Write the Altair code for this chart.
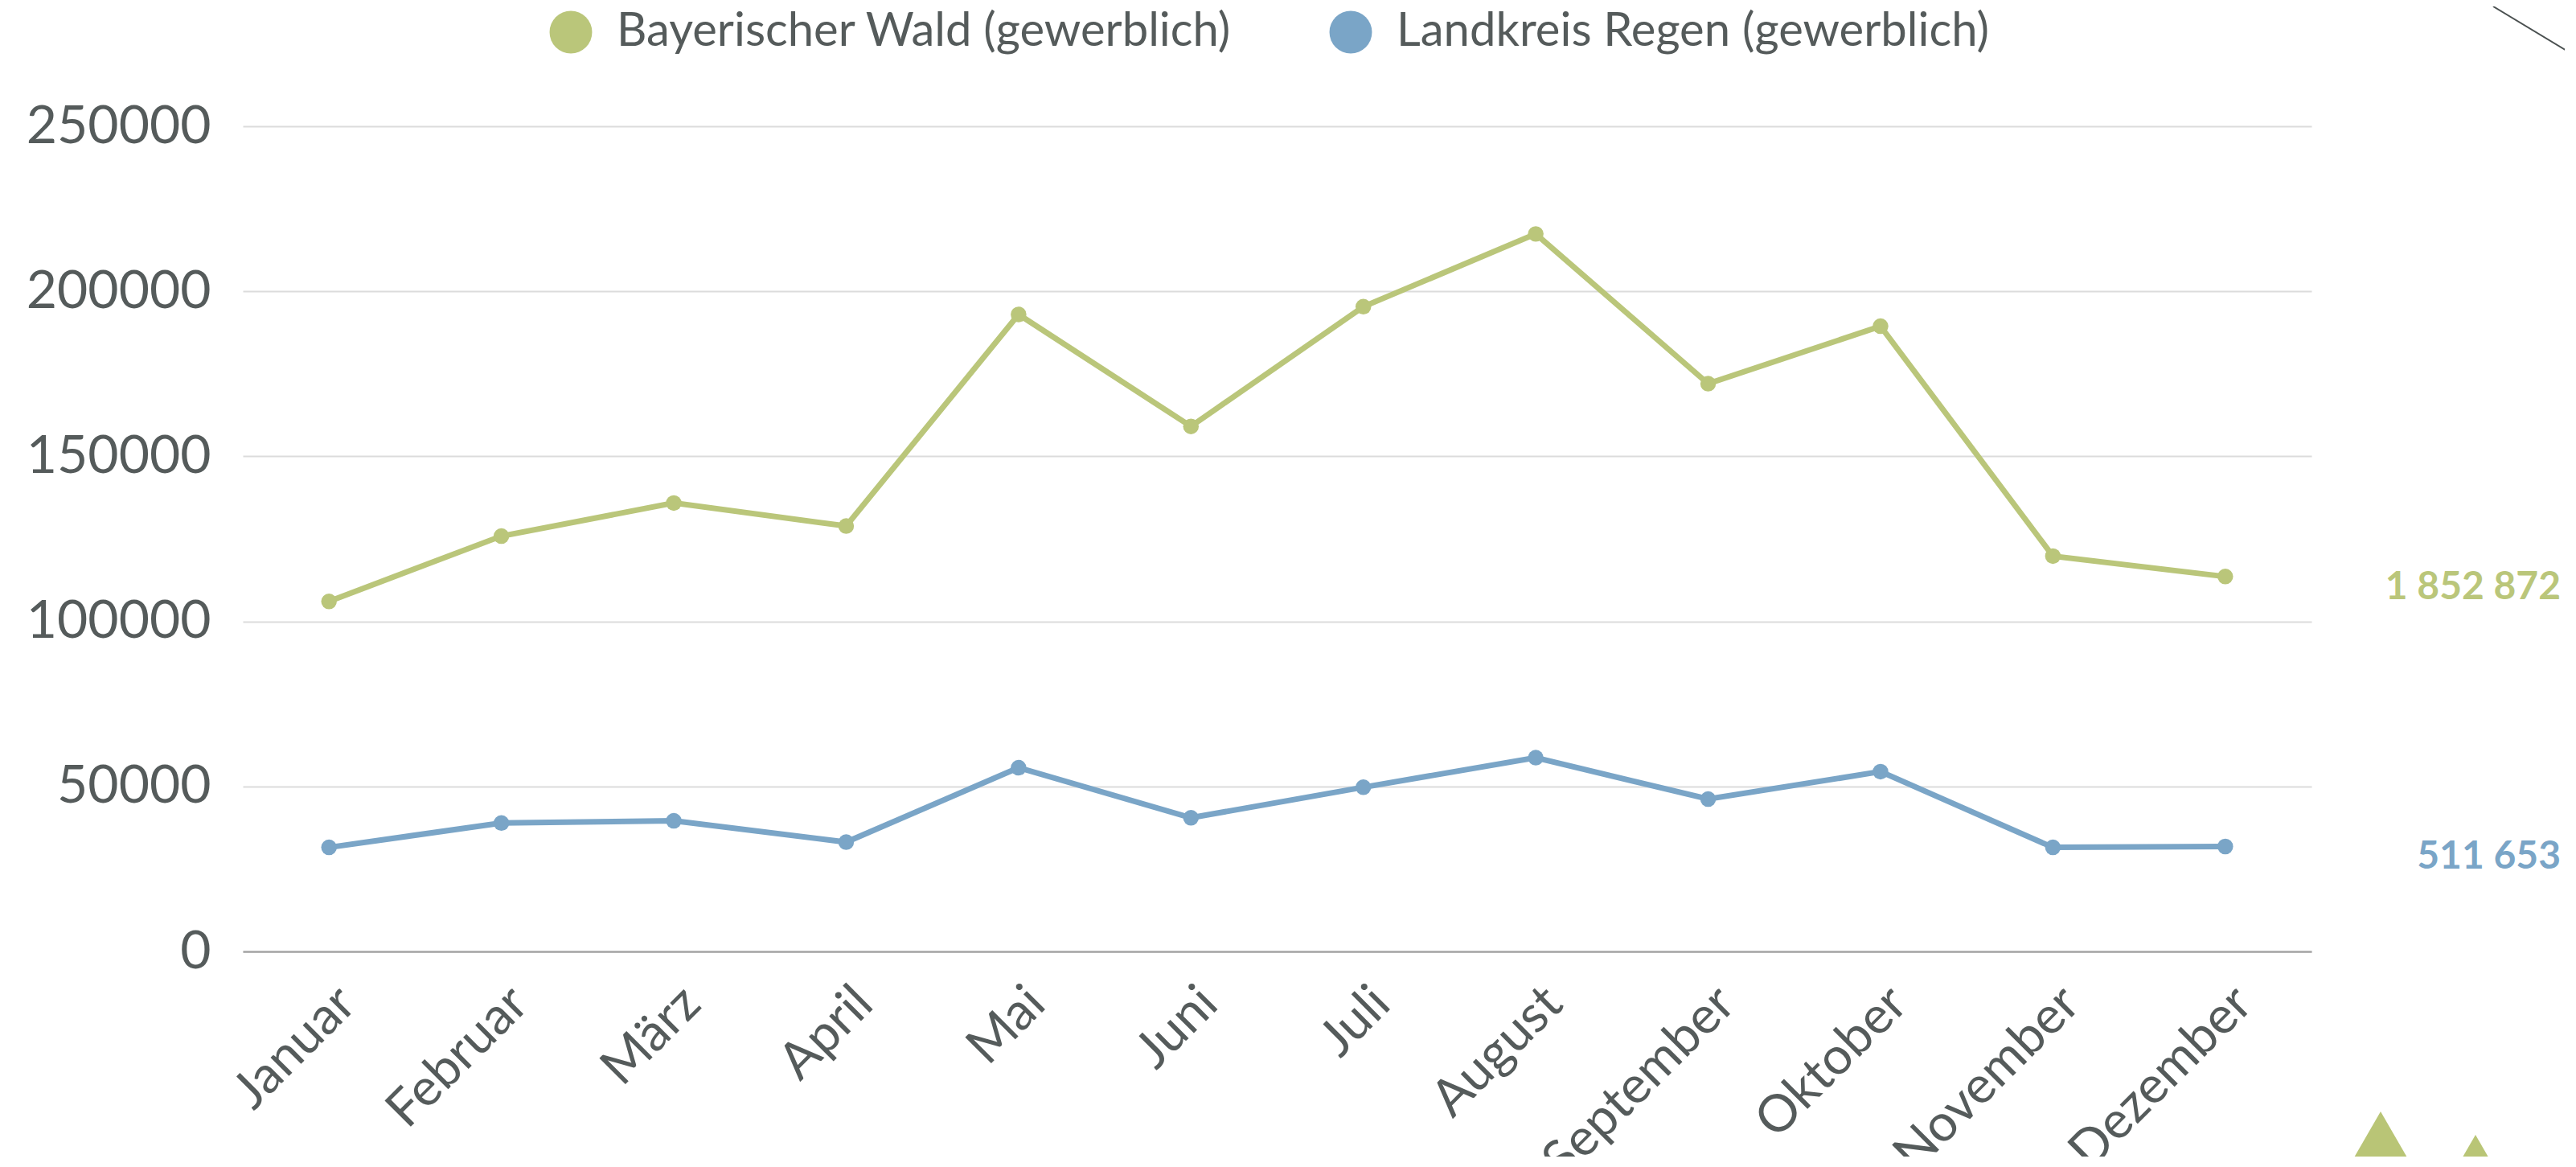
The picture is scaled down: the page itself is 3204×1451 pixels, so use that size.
import altair as alt
import pandas as pd

months = ["Januar", "Februar", "März", "April", "Mai", "Juni", "Juli",
          "August", "September", "Oktober", "November", "Dezember"]
series_names = ["Bayerischer Wald (gewerblich)", "Landkreis Regen (gewerblich)"]
wald_values = [106050, 125840, 135870, 128880, 192980, 159080, 195350,
               217380, 172010, 189420, 119780, 113580]
regen_values = [31530, 38920, 39580, 33120, 55670, 40500, 49740,
                58700, 46170, 54480, 31530, 31800]
totals = ["1 852 872", "511 653"]
colors = ["#bac67a", "#7aa5c7"]
y_ticks = [0, 50000, 100000, 150000, 200000, 250000]

TEXT = "#555b5b"
FONT = "Lato"

rows = []
for m, v in zip(months, wald_values):
    rows.append({"month": m, "series": series_names[0], "value": v})
for m, v in zip(months, regen_values):
    rows.append({"month": m, "series": series_names[1], "value": v})
df = pd.DataFrame(rows)

df_tot = pd.DataFrame({
    "series": series_names,
    "value": [wald_values[-1], regen_values[-1]],
    "label": totals,
})

W, H = 2573, 1026

x_enc = alt.X("month:N", sort=months,
              scale=alt.Scale(type="point", padding=0.5),
              axis=alt.Axis(title=None, labelAngle=-45, labelFontSize=64,
                            labelFont=FONT, labelColor=TEXT, labelPadding=32,
                            labelLimit=0,
                            ticks=False, grid=False, domain=True,
                            domainColor="#a6a6a6", domainWidth=2.5))
y_enc = alt.Y("value:Q", scale=alt.Scale(domain=[0, 250000], nice=False),
              axis=alt.Axis(title=None, values=y_ticks, format="d",
                            labelFontSize=66, labelFont=FONT, labelColor=TEXT,
                            labelPadding=40, labelLimit=0,
                            ticks=False, domain=False,
                            grid=True, gridColor="#dcdcdc", gridWidth=2))
color_enc = alt.Color("series:N",
                      scale=alt.Scale(domain=series_names, range=colors),
                      legend=alt.Legend(title=None, orient="none",
                                        direction="horizontal",
                                        legendX=379, legendY=-146,
                                        symbolType="circle", symbolSize=2800,
                                        symbolStrokeWidth=0, symbolOpacity=1,
                                        labelFontSize=58, labelFont=FONT,
                                        labelColor=TEXT, labelOffset=28,
                                        labelLimit=0,
                                        columnPadding=118, padding=0))

base = alt.Chart(df).encode(x=x_enc, y=y_enc, color=color_enc)
line = base.mark_line(strokeWidth=7)
pts = base.mark_circle(size=380, opacity=1)

tot = alt.Chart(df_tot).mark_text(
    align="right", baseline="middle", fontSize=48, fontWeight="bold",
    font=FONT, dy=14
).encode(
    x=alt.value(W + 310),
    y=alt.Y("value:Q", scale=alt.Scale(domain=[0, 250000], nice=False)),
    text="label:N",
    color=alt.Color("series:N", scale=alt.Scale(domain=series_names, range=colors),
                    legend=None),
)

# decorative elements of the page (small mountain logo, corner outline)
TRI = "M0,-1L1.155,1L-1.155,1Z"
deco_tri_1 = alt.Chart(pd.DataFrame({"d": [0]})).mark_point(
    shape=TRI, filled=True, color="#b9c576", opacity=1, size=40000
).encode(x=alt.value(2659), y=alt.value(1325))
deco_tri_2 = alt.Chart(pd.DataFrame({"d": [0]})).mark_point(
    shape=TRI, filled=True, color="#b9c576", opacity=1, size=40000
).encode(x=alt.value(2777), y=alt.value(1354))
deco_line = alt.Chart(pd.DataFrame({"d": [0]})).mark_rule(
    color="#4a5050", strokeWidth=2
).encode(x=alt.value(2799), y=alt.value(-149), x2=alt.value(2902), y2=alt.value(-87))

chart = alt.layer(line, pts, tot, deco_tri_1, deco_tri_2, deco_line).properties(
    width=W, height=H,
    autosize=alt.AutoSizeParams(type="none"),
    padding={"left": 294, "top": 149, "right": 315, "bottom": 255},
).configure(background="white").configure_view(stroke=None)

chart.save("out.html", embed_options={"renderer": "svg", "actions": False})
